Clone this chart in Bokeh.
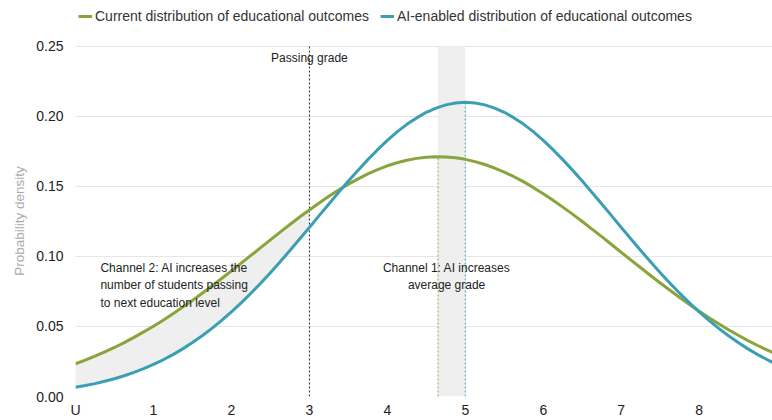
from bokeh.plotting import figure
from bokeh.models import Legend, LegendItem, FixedTicker, Range1d, Label
from bokeh.embed import file_html
from bokeh.resources import INLINE

# Grade (x) grid, step 0.125
grade = [0.0, 0.125, 0.25, 0.375, 0.5, 0.625, 0.75, 0.875,
         1.0, 1.125, 1.25, 1.375, 1.5, 1.625, 1.75, 1.875,
         2.0, 2.125, 2.25, 2.375, 2.5, 2.625, 2.75, 2.875,
         3.0, 3.125, 3.25, 3.375, 3.5, 3.625, 3.75, 3.875,
         4.0, 4.125, 4.25, 4.375, 4.5, 4.625, 4.75, 4.875,
         5.0, 5.125, 5.25, 5.375, 5.5, 5.625, 5.75, 5.875,
         6.0, 6.125, 6.25, 6.375, 6.5, 6.625, 6.75, 6.875,
         7.0, 7.125, 7.25, 7.375, 7.5, 7.625, 7.75, 7.875,
         8.0, 8.125, 8.25, 8.375, 8.5, 8.625, 8.75, 8.875, 9.0]

current_density = [0.0234, 0.0260, 0.0288, 0.0318, 0.0350, 0.0385, 0.0422, 0.0461,
                   0.0502, 0.0545, 0.0590, 0.0638, 0.0686, 0.0737, 0.0789, 0.0842,
                   0.0897, 0.0952, 0.1007, 0.1063, 0.1118, 0.1174, 0.1228, 0.1281,
                   0.1332, 0.1382, 0.1429, 0.1474, 0.1516, 0.1554, 0.1589, 0.1620,
                   0.1647, 0.1669, 0.1687, 0.1700, 0.1708, 0.1712, 0.1710, 0.1704,
                   0.1693, 0.1677, 0.1656, 0.1631, 0.1602, 0.1569, 0.1532, 0.1491,
                   0.1447, 0.1401, 0.1352, 0.1302, 0.1249, 0.1195, 0.1141, 0.1085,
                   0.1029, 0.0974, 0.0919, 0.0864, 0.0810, 0.0758, 0.0707, 0.0657,
                   0.0609, 0.0563, 0.0519, 0.0477, 0.0437, 0.0399, 0.0364, 0.0331, 0.0300]

ai_density = [0.0066, 0.0078, 0.0092, 0.0109, 0.0127, 0.0148, 0.0172, 0.0199,
              0.0229, 0.0262, 0.0299, 0.0340, 0.0385, 0.0434, 0.0486, 0.0543,
              0.0604, 0.0668, 0.0737, 0.0809, 0.0884, 0.0962, 0.1042, 0.1124,
              0.1207, 0.1291, 0.1374, 0.1457, 0.1538, 0.1616, 0.1691, 0.1762,
              0.1828, 0.1889, 0.1943, 0.1989, 0.2029, 0.2059, 0.2082, 0.2095,
              0.2100, 0.2095, 0.2082, 0.2059, 0.2029, 0.1989, 0.1943, 0.1889,
              0.1828, 0.1762, 0.1691, 0.1616, 0.1538, 0.1457, 0.1374, 0.1291,
              0.1207, 0.1124, 0.1042, 0.0962, 0.0884, 0.0809, 0.0737, 0.0668,
              0.0604, 0.0543, 0.0486, 0.0434, 0.0385, 0.0340, 0.0299, 0.0262, 0.0229]

current_mean = 4.65
current_peak = 0.171
ai_mean = 5.0
ai_peak = 0.21
passing_grade = 3.0
y_top = 0.25

x_ticks = [0, 1, 2, 3, 4, 5, 6, 7, 8]
x_tick_labels = ["U", "1", "2", "3", "4", "5", "6", "7", "8"]
y_ticks = [0.0, 0.05, 0.10, 0.15, 0.20, 0.25]
y_tick_labels = ["0.00", "0.05", "0.10", "0.15", "0.20", "0.25"]

GREEN = "#87a53a"
BLUE = "#3b9fb3"
FONT = "Liberation Sans"

# y range extends above 0.25 to leave room for the legend strip
p = figure(width=772, height=420, output_backend="svg", toolbar_location=None,
           x_range=Range1d(0, 8.94), y_range=Range1d(0, 0.2827),
           min_border_left=75, min_border_right=0, min_border_top=0,
           min_border_bottom=0)
p.outline_line_color = None
p.background_fill_color = "white"

# shaded regions
n_pass = grade.index(passing_grade) + 1
p.varea(x=grade[:n_pass], y1=ai_density[:n_pass], y2=current_density[:n_pass],
        fill_color="#efefef")
p.quad(left=[current_mean], right=[ai_mean], bottom=[0], top=[y_top],
       fill_color="#efefef", line_color=None)

# vertical reference lines
p.segment(x0=[passing_grade], y0=[0], x1=[passing_grade], y1=[y_top],
          line_color="#222222", line_width=1, line_dash="2 2")
p.segment(x0=[current_mean], y0=[0], x1=[current_mean], y1=[current_peak],
          line_color=GREEN, line_width=1, line_dash="2 2")
p.segment(x0=[ai_mean], y0=[0], x1=[ai_mean], y1=[ai_peak],
          line_color=BLUE, line_width=1, line_dash="2 2")

r_cur = p.line(grade, current_density, line_color=GREEN, line_width=3, line_join="round")
r_ai = p.line(grade, ai_density, line_color=BLUE, line_width=3, line_join="round")

# axes
p.xaxis.ticker = FixedTicker(ticks=x_ticks)
p.xaxis.major_label_overrides = {t: l for t, l in zip(x_ticks, x_tick_labels)}
p.yaxis.ticker = FixedTicker(ticks=y_ticks)
p.yaxis.major_label_overrides = {t: l for t, l in zip(y_ticks, y_tick_labels)}
for ax in (p.xaxis, p.yaxis):
    ax.axis_line_color = None
    ax.major_tick_line_color = None
    ax.minor_tick_line_color = None
    ax.major_tick_out = 0
    ax.major_tick_in = 0
    ax.minor_tick_out = 0
    ax.minor_tick_in = 0
    ax.major_label_text_font = FONT
    ax.major_label_text_font_size = "14px"
    ax.major_label_text_color = "#222222"
p.xaxis.major_label_standoff = 5
p.yaxis.major_label_standoff = 12
# trailing no-break spaces centre the visible label on the 0-0.25 band
p.yaxis.axis_label = "Probability density" + "\u00a0" * 12
p.yaxis.axis_label_text_font = FONT
p.yaxis.axis_label_text_font_size = "13.5px"
p.yaxis.axis_label_text_font_style = "normal"
p.yaxis.axis_label_text_color = "#aaaaaa"
p.yaxis.axis_label_standoff = 6

p.xgrid.grid_line_color = None
p.ygrid.grid_line_color = "#e6e6e6"
p.ygrid.grid_line_width = 1

# annotations
p.add_layout(Label(x=passing_grade, y=0.2415, text="Passing grade", text_align="center",
                   text_baseline="middle", text_font=FONT, text_font_size="12px",
                   text_color="#222222"))
p.add_layout(Label(x=0.32, y=0.0970,
                   text="Channel 2: AI increases the\nnumber of students passing\nto next education level",
                   text_align="left", text_baseline="top", text_font=FONT,
                   text_font_size="12px", text_color="#222222", text_line_height=1.25))
p.add_layout(Label(x=4.76, y=0.0970, text="Channel 1: AI increases\naverage grade",
                   text_align="center", text_baseline="top", text_font=FONT,
                   text_font_size="12px", text_color="#222222", text_line_height=1.25))

legend = Legend(items=[LegendItem(label="Current distribution of educational outcomes", renderers=[r_cur]),
                       LegendItem(label="AI-enabled distribution of educational outcomes", renderers=[r_ai])],
                orientation="horizontal", location=(3, 372),
                glyph_width=14, glyph_height=16, label_height=16, label_standoff=3,
                spacing=11, padding=0, margin=0, border_line_color=None,
                background_fill_alpha=0, label_text_font=FONT,
                label_text_font_size="14px", label_text_color="#333333")
p.add_layout(legend, "center")

open("out.html", "w").write(file_html(p, INLINE))
